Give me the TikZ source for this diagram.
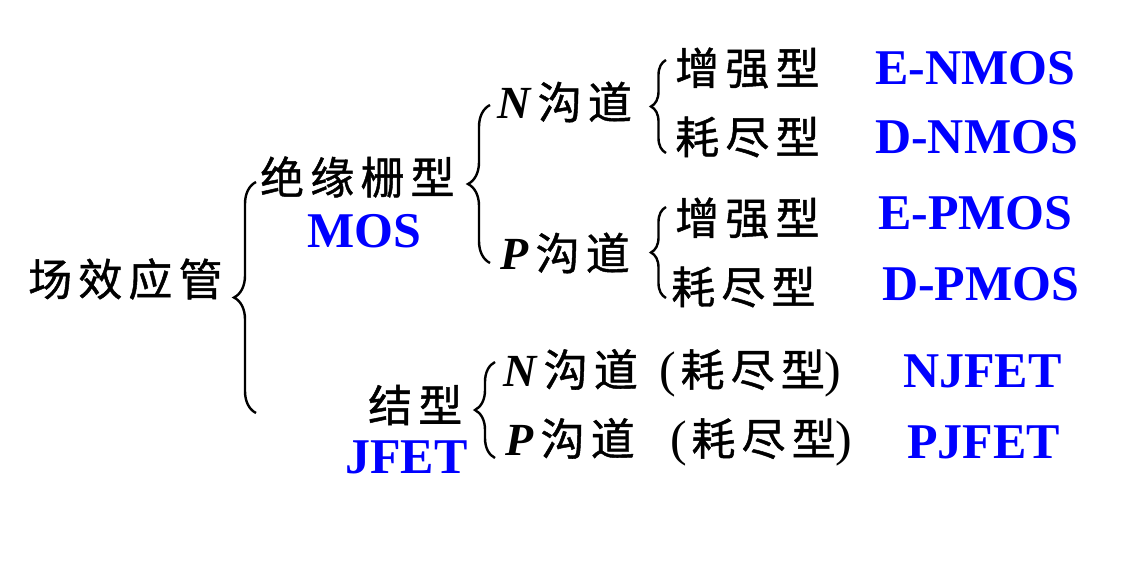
\documentclass[tikz,border=0pt]{standalone}
\usepackage{fontspec}
\setmainfont{Liberation Serif}
\newfontfamily\cjkfont[LetterSpace=14, FakeBold=1]{Noto Sans CJK SC}
\usepackage{tikz}
\usetikzlibrary{decorations.pathreplacing}

\newcommand\chan[1]{{\rmfamily\bfseries\itshape\fontsize{46}{50}\selectfont #1}}
\newcommand\lpar{{\rmfamily\fontsize{50}{54}\selectfont(}\hspace{4pt}}
\newcommand\rpar{{\rmfamily\fontsize{50}{54}\selectfont)}}

\tikzset{
  zh/.style={font=\cjkfont\fontsize{44}{48}\selectfont, inner sep=0pt, anchor=west},
  en/.style={font=\bfseries\fontsize{50}{54}\selectfont, text=blue, inner sep=0pt, anchor=west},
  brc/.style={decorate, decoration={brace, amplitude=#1}, line width=2.4pt},
}

\begin{document}
\begin{tikzpicture}[x=1pt, y=-1pt]
        \useasboundingbox (0,0) rectangle (1138,586);

        \node[zh] (fet) at (28,279) {场效应管};

        % insulated gate branch
        \node[zh] (igt) at (260,177) {绝缘栅型};
        \node[en, anchor=center] (mos) at (364,231) {MOS};

        \node[zh] (nch) at (497,102) {\chan{N}\,沟道};
        \node[zh] (pch) at (500,253) {\chan{P}\,沟道};

        \node[zh] (nenh) at (675,68)  {增强型};
        \node[zh] (ndep) at (675,137) {耗尽型};
        \node[zh] (penh) at (675,218) {增强型};
        \node[zh] (pdep) at (671,287) {耗尽型};

        \node[en] (enmos) at (875,68)  {E-NMOS};
        \node[en] (dnmos) at (875,137) {D-NMOS};
        \node[en] (epmos) at (878,213) {E-PMOS};
        \node[en] (dpmos) at (882,284) {D-PMOS};

        % junction branch
        \node[zh] (jt) at (368,405) {结型};
        \node[en] (jfet) at (345,457) {JFET};

        \node[zh] (njch) at (503,373) {\chan{N}\,沟道\hspace{22pt}\lpar 耗尽型\rpar};
        \node[zh] (pjch) at (505,442) {\chan{P}\,沟道\hspace{36pt}\lpar 耗尽型\rpar};

        \node[en] (njfet) at (903,371) {NJFET};
        \node[en] (pjfet) at (907,442) {PJFET};

        % braces
        \coordinate (b1top) at (256,182);  \coordinate (b1bot) at (256,413);
        \coordinate (b2top) at (490,105);  \coordinate (b2bot) at (490,263);
        \coordinate (b3top) at (666,60);   \coordinate (b3bot) at (666,153);
        \coordinate (b4top) at (666,207);  \coordinate (b4bot) at (666,298);
        \coordinate (b5top) at (495,362);  \coordinate (b5bot) at (495,458);

        \draw[brc=22] (b1bot) -- (b1top);
        \draw[brc=22] (b2bot) -- (b2top);
        \draw[brc=15] (b3bot) -- (b3top);
        \draw[brc=15] (b4bot) -- (b4top);
        \draw[brc=20] (b5bot) -- (b5top);
    \end{tikzpicture}
\end{document}
